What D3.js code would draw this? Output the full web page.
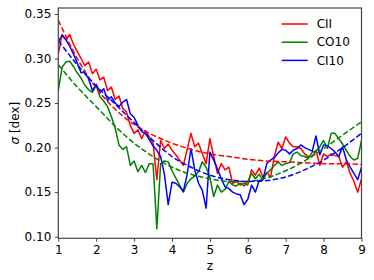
<!DOCTYPE html>
<html>
<head>
<meta charset="utf-8">
<script src="https://cdn.jsdelivr.net/npm/d3@7"></script>
<style>
  html, body { margin: 0; padding: 0; background: #fff; }
  svg { display: block; font-family: "DejaVu Sans", sans-serif; }
</style>
</head>
<body>
<svg id="chart" width="374" height="280"></svg>
<script>
// ---- data ----
const zValues = d3.range(81).map(i => +(1 + i * 0.1).toFixed(1));
const fitZ = [1, 1.5, 2, 2.5, 3, 3.5, 4, 4.5, 5, 5.5, 6, 6.5, 7, 7.5, 8, 8.5, 9];

const seriesNames = ["CII", "CO10", "CI10"];
const seriesColors = ["red", "green", "blue"];

const ciiValues = [
  0.305, 0.327, 0.321, 0.327, 0.316, 0.308, 0.300, 0.292, 0.296, 0.283,
  0.288, 0.276, 0.279, 0.264, 0.268, 0.254, 0.258, 0.244, 0.240, 0.225,
  0.216, 0.220, 0.210, 0.219, 0.212, 0.205, 0.164, 0.208, 0.199, 0.204,
  0.197, 0.192, 0.186, 0.180, 0.198, 0.216, 0.201, 0.205, 0.193, 0.182,
  0.210, 0.190, 0.171, 0.182, 0.175, 0.178, 0.160, 0.162, 0.158, 0.160,
  0.158, 0.175, 0.169, 0.177, 0.167, 0.172, 0.167, 0.190, 0.206, 0.199,
  0.212, 0.205, 0.201, 0.201, 0.199, 0.193, 0.190, 0.190, 0.197, 0.180,
  0.193, 0.190, 0.193, 0.191, 0.190, 0.178, 0.184, 0.171, 0.162, 0.150,
  0.165
];
const co10Values = [
  0.264, 0.290, 0.296, 0.297, 0.291, 0.284, 0.278, 0.270, 0.265, 0.262,
  0.270, 0.257, 0.252, 0.246, 0.235, 0.222, 0.203, 0.198, 0.201, 0.180,
  0.185, 0.173, 0.180, 0.172, 0.182, 0.182, 0.109, 0.182, 0.185, 0.184,
  0.174, 0.166, 0.158, 0.150, 0.160, 0.165, 0.168, 0.173, 0.184, 0.178,
  0.167, 0.145, 0.158, 0.150, 0.153, 0.162, 0.158, 0.157, 0.160, 0.157,
  0.162, 0.171, 0.165, 0.170, 0.164, 0.171, 0.175, 0.180, 0.184, 0.180,
  0.182, 0.183, 0.193, 0.195, 0.191, 0.190, 0.188, 0.195, 0.196, 0.201,
  0.208, 0.199, 0.216, 0.216, 0.210, 0.204, 0.197, 0.190, 0.186, 0.188,
  0.208
];
const ci10Values = [
  0.319, 0.326, 0.321, 0.314, 0.305, 0.295, 0.284, 0.285, 0.277, 0.264,
  0.271, 0.262, 0.266, 0.253, 0.257, 0.250, 0.246, 0.251, 0.254, 0.238,
  0.234, 0.225, 0.218, 0.216, 0.209, 0.202, 0.197, 0.190, 0.170, 0.136,
  0.161, 0.160, 0.156, 0.151, 0.170, 0.199, 0.175, 0.160, 0.152, 0.132,
  0.195, 0.186, 0.176, 0.165, 0.156, 0.154, 0.150, 0.148, 0.147, 0.136,
  0.142, 0.158, 0.150, 0.163, 0.164, 0.182, 0.186, 0.189, 0.194, 0.198,
  0.197, 0.193, 0.197, 0.199, 0.203, 0.200, 0.198, 0.196, 0.213, 0.192,
  0.203, 0.202, 0.199, 0.195, 0.190, 0.201, 0.186, 0.178, 0.171, 0.164,
  0.178
];

const ciiFit  = [0.343, 0.300, 0.267, 0.243, 0.226, 0.214, 0.205, 0.198, 0.193, 0.190, 0.187, 0.185, 0.184, 0.183, 0.182, 0.182, 0.181];
const co10Fit = [0.293, 0.268, 0.246, 0.224, 0.205, 0.190, 0.178, 0.170, 0.165, 0.162, 0.162, 0.166, 0.174, 0.185, 0.199, 0.214, 0.229];
const ci10Fit = [0.320, 0.293, 0.269, 0.249, 0.228, 0.208, 0.190, 0.178, 0.169, 0.164, 0.162, 0.163, 0.167, 0.175, 0.186, 0.200, 0.216];

const xTicks = [1, 2, 3, 4, 5, 6, 7, 8, 9];
const yTicks = [0.10, 0.15, 0.20, 0.25, 0.30, 0.35];

// ---- layout ----
const svg = d3.select("#chart");
const W = 374, H = 280;
const margin = { left: 58.3, right: 12.5, top: 8, bottom: 41.7 };
const x = d3.scaleLinear().domain([1, 9]).range([margin.left, W - margin.right]);
const y = d3.scaleLinear().domain([0.0982, 0.3567]).range([H - margin.bottom, margin.top]);

svg.append("defs").append("clipPath").attr("id", "clip")
  .append("rect")
  .attr("x", margin.left).attr("y", margin.top)
  .attr("width", W - margin.left - margin.right)
  .attr("height", H - margin.top - margin.bottom);

const plot = svg.append("g").attr("clip-path", "url(#clip)");

const solidSeries = [ciiValues, co10Values, ci10Values];
const fitSeries = [ciiFit, co10Fit, ci10Fit];

const line = d3.line().x(d => x(d[0])).y(d => y(d[1]));
const fitLine = d3.line().x(d => x(d[0])).y(d => y(d[1])).curve(d3.curveMonotoneX);

solidSeries.forEach((vals, i) => {
  plot.append("path")
    .datum(zValues.map((z, j) => [z, vals[j]]))
    .attr("d", line)
    .attr("fill", "none")
    .attr("stroke", seriesColors[i])
    .attr("stroke-width", 1.5)
    .attr("stroke-linejoin", "round");
});
fitSeries.forEach((vals, i) => {
  plot.append("path")
    .datum(fitZ.map((z, j) => [z, vals[j]]))
    .attr("d", fitLine)
    .attr("fill", "none")
    .attr("stroke", seriesColors[i])
    .attr("stroke-width", 1.5)
    .attr("stroke-dasharray", "5.5,2.4");
});

// ---- axes ----
const axisColor = "#444";
const xAxis = svg.append("g")
  .attr("transform", `translate(0,${H - margin.bottom})`)
  .call(d3.axisBottom(x).tickValues(xTicks).tickFormat(d3.format("d")).tickSizeInner(3.5).tickSizeOuter(0).tickPadding(3.5));
const yAxis = svg.append("g")
  .attr("transform", `translate(${margin.left},0)`)
  .call(d3.axisLeft(y).tickValues(yTicks).tickFormat(d3.format(".2f")).tickSizeInner(3.5).tickSizeOuter(0).tickPadding(3.5));
[xAxis, yAxis].forEach(g => {
  g.select(".domain").remove();
  g.selectAll(".tick line").attr("stroke", axisColor).attr("stroke-width", 1);
  g.selectAll(".tick text").attr("fill", "#000").style("font-size", "12px").style("font-family", "DejaVu Sans");
});

// frame
svg.append("rect")
  .attr("x", margin.left).attr("y", margin.top)
  .attr("width", W - margin.left - margin.right)
  .attr("height", H - margin.top - margin.bottom)
  .attr("fill", "none").attr("stroke", axisColor).attr("stroke-width", 1.2);

// axis labels
svg.append("text")
  .attr("x", (margin.left + W - margin.right) / 2).attr("y", 270)
  .attr("text-anchor", "middle").style("font-size", "12px").text("z");
const yl = svg.append("text")
  .attr("transform", `translate(19,${(margin.top + H - margin.bottom) / 2}) rotate(-90)`)
  .attr("text-anchor", "middle").style("font-size", "12px");
yl.append("tspan").style("font-style", "italic").text("σ");
yl.append("tspan").text(" [dex]");

// legend
const legend = svg.append("g");
seriesNames.forEach((name, i) => {
  const ly = 24 + i * 18.2;
  legend.append("line")
    .attr("x1", 281.7).attr("x2", 307.7).attr("y1", ly).attr("y2", ly)
    .attr("stroke", seriesColors[i]).attr("stroke-width", 1.5);
  legend.append("text")
    .attr("x", 316.7).attr("y", ly).attr("dy", "0.35em")
    .style("font-size", "12px").text(name);
});
</script>
</body>
</html>
